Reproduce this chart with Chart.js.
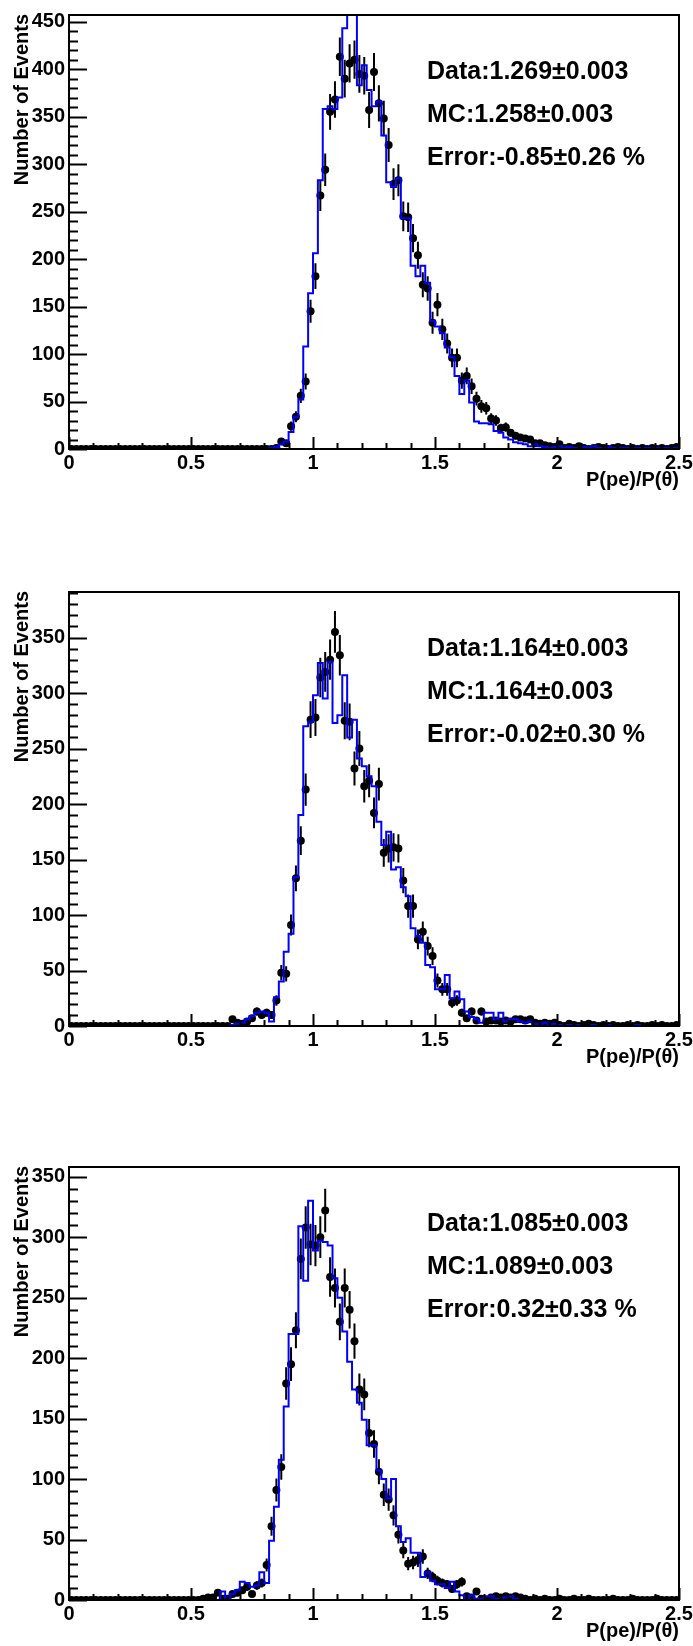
<!DOCTYPE html>
<html><head><meta charset="utf-8">
<script src="https://cdn.jsdelivr.net/npm/chart.js@4.4.1/dist/chart.umd.min.js"></script>
<style>
html,body{margin:0;padding:0;background:#fff;}
body{width:693px;height:1646px;position:relative;overflow:hidden;}
.pan{position:absolute;left:0;width:693px;height:494px;}
canvas{display:block;}
</style></head><body>
<div class="pan" style="top:0px"><canvas id="c1" width="693" height="494"></canvas></div>
<div class="pan" style="top:577px"><canvas id="c2" width="693" height="494"></canvas></div>
<div class="pan" style="top:1152px"><canvas id="c3" width="693" height="494"></canvas></div>
<script>
// ---- binning / axes ----
const X_MIN = 0, X_MAX = 2.5, BIN_WIDTH = 0.02, N_BINS = 125;
const xTickLabels = ['0', '0.5', '1', '1.5', '2', '2.5'];
const xTitle = 'P(pe)/P(\u03b8)';
const yTitle = 'Number of Events';

// ---- panel 1 ----
const data1 = [
 0,0,0,0,0,0,0,0,0,0, 0,0,0,0,0,0,0,0,0,0, 0,0,0,0,0,0,0,0,0,0, 0,0,0,0,0,0,0,0,0,0,
 0,0,1,8,6,24,34,56,71,145,
 182,267,294,355,368,413,390,406,410,395,
 393,357,397,364,348,320,279,283,245,244,
 222,204,173,169,133,152,126,111,96,96,
 72,77,66,53,45,43,32,30,22,23,
 17,14,12,11,10,6,6,4,3,2,
 5,1,2,1,3,1,0,1,2,1,
 0,1,2,1,0,1,0,1,0,1,
 0,1,0,1,2];
const mc1 = [
 0,0,0,0,0,0,0,0,0,0, 0,0,0,0,0,0,0,0,0,0, 0,0,0,0,0,0,0,0,0,0, 0,0,0,0,0,0,0,0,0,0,
 0,1,2,5,8,18,34,52,108,164,
 206,283,358,361,358,370,443,470,470,383,
 404,378,361,366,330,281,276,285,243,243,
 193,182,193,175,135,129,122,107,97,77,
 58,72,49,29,27,27,26,19,17,12,
 10,7,6,5,3,5,3,2,1,2,
 3,1,2,1,0,2,1,3,1,0,
 2,1,0,1,1,0,1,0,1,0,
 1,0,1,0,1];
const yTickLabels1 = ['0','50','100','150','200','250','300','350','400','450'];
const texts1 = ['Data:1.269\u00b10.003', 'MC:1.258\u00b10.003', 'Error:-0.85\u00b10.26 %'];

// ---- panel 2 ----
const data2 = [
 0,0,0,0,0,0,0,0,0,0, 0,0,0,0,0,0,0,0,0,0, 0,0,0,0,0,0,0,0,0,0,
 0,0,0,6,3,2,4,7,13,10,
 12,10,23,48,47,91,133,167,213,276,
 278,314,319,330,355,334,275,274,232,250,
 216,221,192,218,156,160,161,160,131,108,
 108,78,85,72,63,41,33,33,21,23,
 12,7,13,5,13,4,5,5,4,5,
 4,6,6,5,6,3,2,3,2,3,
 1,0,2,1,0,1,2,1,0,1,
 0,1,0,0,1,0,1,0,0,1,
 0,1,0,0,1];
const mc2 = [
 0,0,0,0,0,0,0,0,0,0, 0,0,0,0,0,0,0,0,0,0, 0,0,0,0,0,0,0,0,0,0,
 0,0,0,1,2,3,6,9,12,13,
 12,4,26,40,67,83,134,190,270,274,
 298,327,295,328,273,280,316,260,276,241,
 234,225,216,184,163,175,141,143,125,117,
 88,81,75,55,53,33,33,46,25,31,
 24,13,8,6,3,12,12,6,12,4,
 6,6,4,3,4,2,0,3,0,2,
 1,0,1,0,1,0,0,1,0,0,
 1,0,0,0,0,0,1,0,0,0,
 0,0,0,0,0];
const yTickLabels2 = ['0','50','100','150','200','250','300','350'];
const texts2 = ['Data:1.164\u00b10.003', 'MC:1.164\u00b10.003', 'Error:-0.02\u00b10.30 %'];

// ---- panel 3 ----
const data3 = [
 0,0,0,0,0,0,0,0,0,0, 0,0,0,0,0,0,0,0,0,0,
 0,0,0,0,0,0,0,1,2,2,
 6,1,1,5,6,8,11,5,12,14,
 29,61,91,110,179,195,223,282,308,294,
 293,300,322,267,258,230,258,240,214,174,
 170,138,129,106,87,83,70,54,41,30,
 31,33,36,22,19,16,14,13,9,13,
 15,3,2,7,1,0,2,3,2,3,
 2,3,2,1,0,1,0,1,0,0,
 1,0,0,1,0,0,1,0,0,0,
 0,1,0,0,0,1,0,0,0,0,
 1,0,0,0,0];
const mc3 = [
 0,0,0,0,0,0,0,0,0,0, 0,0,0,0,0,0,0,0,0,0, 0,0,0,0,0,0,0,0,0,0,
 0,7,0,5,8,15,14,11,12,23,
 14,49,77,116,160,220,220,309,264,330,
 289,297,296,293,266,250,222,197,174,163,
 149,128,128,107,100,84,100,61,48,51,
 39,39,19,23,16,13,13,10,15,7,
 4,0,4,1,1,3,3,1,0,2,
 3,1,0,0,0,0,0,0,0,0,
 0,0,0,0,0,0,0,0,0,0,
 0,0,0,0,0,0,0,0,0,0,
 0,0,0,0,0];
const yTickLabels3 = ['0','50','100','150','200','250','300','350'];
const texts3 = ['Data:1.085\u00b10.003', 'MC:1.089\u00b10.003', 'Error:0.32\u00b10.33 %'];

// ---- helpers ----
const FONT = "'Liberation Sans', Arial, Helvetica, sans-serif";
const binLow = Array.from({length: N_BINS}, (_, k) => X_MIN + k * BIN_WIDTH);

function stepPoints(vals) {
  const pts = binLow.map((x, k) => ({x: x, y: vals[k]}));
  pts.push({x: X_MAX, y: vals[N_BINS - 1]});
  return pts;
}
function markerPoints(vals) {
  return binLow.map((x, k) => ({x: x + BIN_WIDTH / 2, y: vals[k], e: Math.sqrt(vals[k])}));
}

const rootStyle = {
  id: 'rootStyle',
  beforeDatasetDraw(chart, args) {
    if (args.index !== 1) return;
    const ctx = chart.ctx, a = chart.chartArea;
    const xs = chart.scales.x, ys = chart.scales.y;
    ctx.save();
    ctx.beginPath(); ctx.rect(a.left, a.top, a.right - a.left, a.bottom - a.top); ctx.clip();
    ctx.strokeStyle = '#000'; ctx.lineWidth = 2;
    ctx.beginPath();
    chart.data.datasets[1].data.forEach(p => {
      if (p.e > 0) {
        const px = xs.getPixelForValue(p.x);
        ctx.moveTo(px, ys.getPixelForValue(p.y - p.e));
        ctx.lineTo(px, ys.getPixelForValue(p.y + p.e));
      }
    });
    ctx.stroke();
    ctx.restore();
  },
  afterDraw(chart, args, opts) {
    const ctx = chart.ctx, a = chart.chartArea;
    const xs = chart.scales.x, ys = chart.scales.y;
    ctx.save();
    ctx.strokeStyle = '#000';
    // frame
    ctx.lineWidth = 2;
    ctx.strokeRect(a.left, a.top, a.right - a.left, a.bottom - a.top);
    // y ticks
    ctx.beginPath();
    for (let v = 0; v <= ys.max + 1e-9; v += 10) {
      const py = Math.round(ys.getPixelForValue(v)) + 0.5;
      const len = (v % 50 === 0) ? 18 : 9;
      ctx.moveTo(a.left, py); ctx.lineTo(a.left + len, py);
    }
    // x ticks
    for (let i = 0; i <= 25; i++) {
      const v = i * 0.1;
      const px = Math.round(xs.getPixelForValue(v)) + 0.5;
      const len = (i % 5 === 0) ? 12 : 6;
      ctx.moveTo(px, a.bottom); ctx.lineTo(px, a.bottom - len);
    }
    ctx.lineWidth = 2;
    ctx.stroke();
    // stats text
    ctx.fillStyle = '#000';
    ctx.font = 'bold 25px ' + FONT;
    ctx.textAlign = 'left'; ctx.textBaseline = 'alphabetic';
    const offs = [64, 107, 150];
    opts.texts.forEach((t, i) => ctx.fillText(t, 427, a.top + offs[i]));
    // x title
    ctx.font = 'bold 20px ' + FONT;
    ctx.textAlign = 'right';
    ctx.fillText(xTitle, a.right, a.bottom + 37);
    // y title
    ctx.save();
    ctx.translate(27.5, a.top - 1);
    ctx.rotate(-Math.PI / 2);
    ctx.font = 'bold 20px ' + FONT;
    ctx.textAlign = 'right';
    ctx.fillText(yTitle, 0, 0);
    ctx.restore();
    ctx.restore();
  }
};

function makePanel(id, dataVals, mcVals, yMax, yLabels, texts, padBottom) {
  new Chart(document.getElementById(id), {
    type: 'scatter',
    data: {
      datasets: [
        {label: 'MC', data: stepPoints(mcVals), showLine: true, stepped: 'before',
         borderColor: '#0000ff', borderWidth: 2, pointRadius: 0, fill: false, order: 0, clip: 0},
        {label: 'Data', data: markerPoints(dataVals), showLine: false,
         pointRadius: 4, pointBackgroundColor: '#000', pointBorderColor: '#000', pointBorderWidth: 0,
         order: 1, clip: 0}
      ]
    },
    options: {
      responsive: false, animation: false, devicePixelRatio: 1,
      layout: {padding: {top: 15, right: 14, bottom: padBottom, left: 0}},
      plugins: {legend: {display: false}, tooltip: {enabled: false}, rootStyle: {texts: texts}},
      scales: {
        x: {type: 'linear', position: 'bottom', min: X_MIN, max: X_MAX,
            grid: {display: false, drawTicks: false}, border: {display: false},
            ticks: {stepSize: 0.5, includeBounds: false, autoSkip: false, maxRotation: 0, padding: 2,
                    color: '#000', font: {family: FONT, size: 20, weight: 'bold'},
                    callback: (v, i) => xTickLabels[i]},
            afterFit: s => { s.height = 40; s.paddingLeft = 0; s.paddingRight = 0; }},
        y: {type: 'linear', min: 0, max: yMax,
            grid: {display: false, drawTicks: false}, border: {display: false},
            ticks: {stepSize: 50, includeBounds: false, padding: 4,
                    color: '#000', font: {family: FONT, size: 20, weight: 'bold'},
                    callback: (v, i) => yLabels[i]},
            afterFit: s => { s.width = 69; s.paddingTop = 0; s.paddingBottom = 0; }}
      }
    },
    plugins: [rootStyle]
  });
}

makePanel('c1', data1, mc1, 457, yTickLabels1, texts1, 5);
makePanel('c2', data2, mc2, 391, yTickLabels2, texts2, 5);
makePanel('c3', data3, mc3, 358, yTickLabels3, texts3, 6);
</script>
</body></html>
